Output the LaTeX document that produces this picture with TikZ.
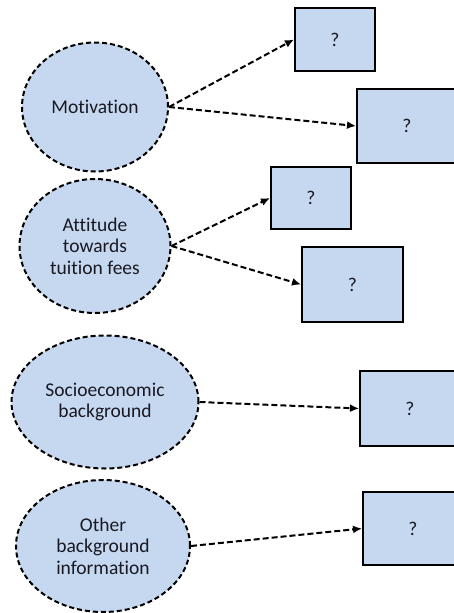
\documentclass[tikz,border=0pt]{standalone}
\usepackage{fontspec}
\setmainfont[Ligatures={NoCommon}]{Carlito}
\usetikzlibrary{shapes.geometric,arrows.meta}
\definecolor{fillblue}{RGB}{198,216,240}
\definecolor{txt}{RGB}{25,25,35}
\tikzset{
  factor/.style={ellipse, draw=black, fill=fillblue, line width=2pt, dash pattern=on 5pt off 3pt,
    inner sep=0pt, align=center, text=txt, font=\fontsize{19.5}{21.5}\selectfont},
  qbox/.style={rectangle, draw=black, fill=fillblue, line width=2pt, inner sep=0pt,
    text=txt, font=\fontsize{19.5}{21.5}\selectfont},
  link/.style={line width=2pt, dash pattern=on 6pt off 3pt, -{Latex[length=9pt,width=8pt]}}
}
\begin{document}
\begin{tikzpicture}[x=1pt,y=-1pt]
\useasboundingbox (0,0) rectangle (454,613);
\clip (0,0) rectangle (454,613);
\node[factor, minimum width=146pt, minimum height=129pt] (e1) at (95,107) {Motivation};
\node[factor, minimum width=151pt, minimum height=134pt] (e2) at (95,246) {Attitude\\towards\\tuition fees};
\node[factor, minimum width=187pt, minimum height=133pt] (e3) at (105,402) {Socioeconomic\\background};
\node[factor, minimum width=174pt, minimum height=132pt] (e4) at (103,546) {Other\\background\\information};

\node[qbox, minimum width=80pt, minimum height=63pt] (b1) at (335,39.5) {?};
\node[qbox, minimum width=100pt, minimum height=74pt] (b2) at (407,126) {?};
\node[qbox, minimum width=80pt, minimum height=62pt] (b3) at (311,198) {?};
\node[qbox, minimum width=101pt, minimum height=75pt] (b4) at (352.5,284.5) {?};
\node[qbox, minimum width=100pt, minimum height=75pt] (b5) at (410,408.5) {?};
\node[qbox, minimum width=100pt, minimum height=73pt] (b6) at (413,528.5) {?};

\draw[link] (e1.east) -- (b1.west);
\draw[link] (e1.east) -- (b2.west);
\draw[link] (e2.east) -- (b3.west);
\draw[link] (e2.east) -- (b4.west);
\draw[link] (e3.east) -- (b5.west);
\draw[link] (e4.east) -- (b6.west);
\end{tikzpicture}
\end{document}
